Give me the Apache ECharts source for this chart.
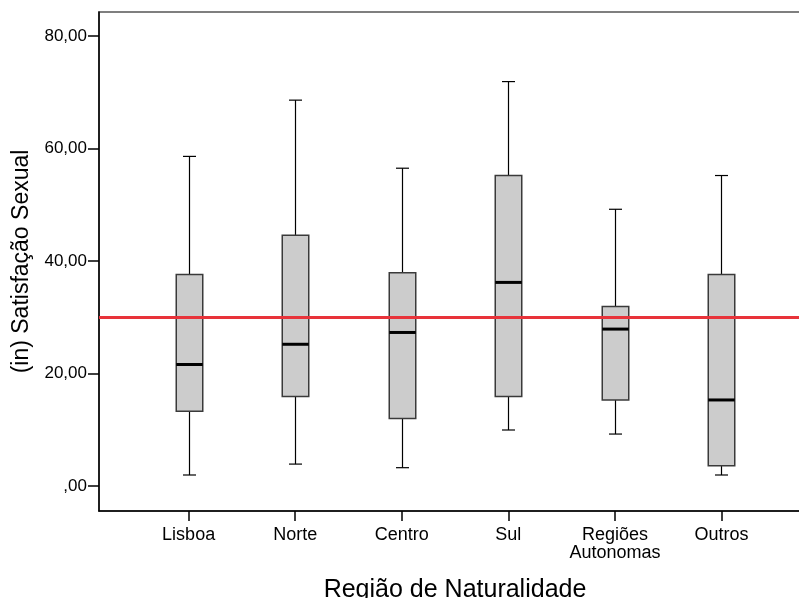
<!DOCTYPE html>
<html>
<head>
<meta charset="utf-8">
<script src="https://cdn.jsdelivr.net/npm/echarts@6/dist/echarts.min.js"></script>
<style>
  html, body { margin: 0; padding: 0; background: #fff; }
  #chart { width: 799px; height: 598px; }
</style>
</head>
<body>
<div id="chart"></div>
<script>
// Region of birth categories
const categories = ['Lisboa', 'Norte', 'Centro', 'Sul', 'Regiões\nAutonomas', 'Outros'];

// Five-number summaries per region
const whiskerLow  = [1.96, 3.9, 3.26, 9.96, 9.24, 1.96];
const quartile1   = [13.3, 15.9, 12.0, 15.9, 15.3, 3.6];
const medians     = [21.6, 25.2, 27.3, 36.2, 27.9, 15.3];
const quartile3   = [37.6, 44.6, 37.9, 55.2, 31.9, 37.6];
const whiskerHigh = [58.6, 68.6, 56.5, 71.9, 49.2, 55.2];

// Reference line
const referenceValue = 30;

// Y axis ticks
const yTickValues = [0, 20, 40, 60, 80];
const yTickLabels = [',00', '20,00', '40,00', '60,00', '80,00'];

const boxData = categories.map((c, i) => [i, whiskerLow[i], quartile1[i], medians[i], quartile3[i], whiskerHigh[i]]);

const chart = echarts.init(document.getElementById('chart'));

function renderBox(params, api) {
  const x = api.value(0);
  const pLow = api.coord([x, api.value(1)]);
  const pQ1 = api.coord([x, api.value(2)]);
  const pMed = api.coord([x, api.value(3)]);
  const pQ3 = api.coord([x, api.value(4)]);
  const pHigh = api.coord([x, api.value(5)]);
  const cx = Math.round(pMed[0]) + 0.5;
  const halfBox = 13.25;
  const halfCap = 6.5;
  const lineStyle = { stroke: '#000', lineWidth: 1.2 };
  return {
    type: 'group',
    children: [
      { type: 'line', shape: { x1: cx, y1: pHigh[1], x2: cx, y2: pQ3[1] }, style: lineStyle },
      { type: 'line', shape: { x1: cx - halfCap, y1: pHigh[1], x2: cx + halfCap, y2: pHigh[1] }, style: lineStyle },
      { type: 'line', shape: { x1: cx, y1: pQ1[1], x2: cx, y2: pLow[1] }, style: lineStyle },
      { type: 'line', shape: { x1: cx - halfCap, y1: pLow[1], x2: cx + halfCap, y2: pLow[1] }, style: lineStyle },
      {
        type: 'rect',
        shape: { x: cx - halfBox, y: pQ3[1], width: halfBox * 2, height: pQ1[1] - pQ3[1] },
        style: { fill: '#cccccc', stroke: '#3a3a3a', lineWidth: 1.5 }
      },
      { type: 'line', shape: { x1: cx - halfBox, y1: pMed[1], x2: cx + halfBox, y2: pMed[1] }, style: { stroke: '#000', lineWidth: 3 } }
    ]
  };
}

chart.setOption({
  backgroundColor: '#fff',
  animation: false,
  textStyle: { fontFamily: 'Liberation Sans, Arial, sans-serif' },
  grid: {
    left: 99, top: 12, right: -12, bottom: 87,
    outerBoundsMode: 'none',
    containLabel: false,
    show: true, borderColor: '#555', borderWidth: 1.5, backgroundColor: 'transparent'
  },
  xAxis: {
    type: 'value',
    min: -0.841,
    max: 5.84,
    name: 'Região de Naturalidade',
    nameLocation: 'middle',
    nameGap: 67,
    nameTextStyle: { fontSize: 25, color: '#000', fontFamily: 'Liberation Sans, Arial, sans-serif' },
    axisLine: { show: true, onZero: false, lineStyle: { color: '#000', width: 1.5 } },
    axisTick: { show: true, length: 10, lineStyle: { color: '#000', width: 1.5 }, customValues: categories.map((c, i) => i) },
    axisLabel: {
      customValues: categories.map((c, i) => i),
      formatter: v => categories[Math.round(v)] || '',
      fontSize: 18, color: '#000', margin: 15, lineHeight: 18
    },
    splitLine: { show: false }
  },
  yAxis: {
    type: 'value',
    min: -4.44,
    max: 84.27,
    name: '(in) Satisfação Sexual',
    nameLocation: 'middle',
    nameGap: 66,
    nameRotate: 90,
    nameTextStyle: { fontSize: 23, color: '#000', fontFamily: 'Liberation Sans, Arial, sans-serif' },
    axisLine: { show: true, onZero: false, lineStyle: { color: '#000', width: 1.5 } },
    axisTick: { show: true, length: 11, lineStyle: { color: '#000', width: 1.5 }, customValues: yTickValues },
    axisLabel: {
      customValues: yTickValues,
      formatter: v => yTickLabels[yTickValues.indexOf(Math.round(v))] || '',
      fontSize: 17, color: '#000', margin: 12
    },
    splitLine: { show: false }
  },
  series: [{
    type: 'custom',
    renderItem: renderBox,
    data: boxData,
    encode: { x: 0, y: [1, 2, 3, 4, 5] },
    z: 2,
    markLine: {
      silent: true,
      symbol: ['none', 'none'],
      label: { show: false },
      lineStyle: { color: '#e8333a', width: 3, type: 'solid' },
      data: [{ yAxis: referenceValue }],
      z: 5
    }
  }]
});
</script>
</body>
</html>
